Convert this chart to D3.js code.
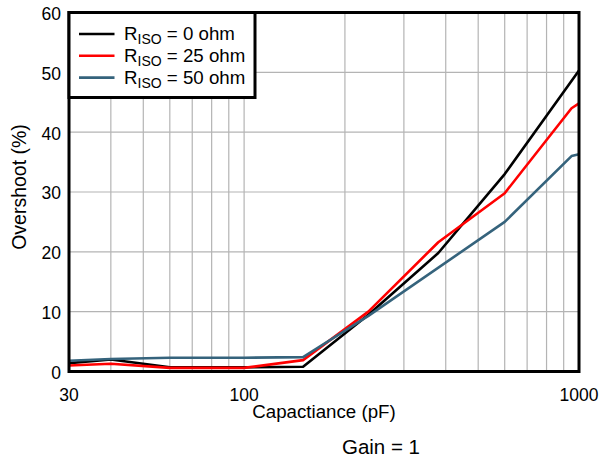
<!DOCTYPE html>
<meta charset="utf-8">
<title>Overshoot vs Capacitance</title>
<style>
    body { margin: 0; background: #fff; font-family: Arial, "Liberation Sans", Helvetica, sans-serif; }
    svg text { fill: #000; }
</style>
<body>
<script src="https://cdn.jsdelivr.net/npm/d3@7"></script>
<script>

    // capacitance (pF) and overshoot (%) per series
    var capR0  = [30, 40, 60, 100, 150, 235, 380, 600, 1000],
        ovR0   = [1.4, 2.0, 0.7, 0.7, 0.8, 9.5, 19.8, 33.0, 50.3];
    var capR25 = [30, 40, 60, 100, 150, 235, 380, 600, 950, 1000],
        ovR25  = [1.0, 1.3, 0.6, 0.6, 1.9, 10.0, 21.6, 29.8, 44.0, 44.8];
    var capR50 = [30, 40, 60, 100, 150, 235, 600, 950, 1000],
        ovR50  = [1.8, 2.1, 2.3, 2.3, 2.4, 9.3, 25.0, 36.0, 36.3];

    var seriesNames = ["0 ohm", "25 ohm", "50 ohm"],
        seriesColors = ["#000000", "#ff0000", "#35637c"];

    var xTicks = [30, 100, 1000],
        xGrid = [40, 50, 60, 70, 80, 90, 100, 200, 300, 400, 500, 600, 700, 800, 900],
        yTicks = [0, 10, 20, 30, 40, 50, 60];

    var width = 601, height = 461;
    var plotL = 69, plotR = 579, plotT = 12.5, plotB = 371.5;

    var x = d3.scaleLog().domain([30, 1000]).range([plotL, plotR]);
    var y = d3.scaleLinear().domain([0, 60]).range([plotB, plotT]);

    var svg = d3.select("body").append("svg")
        .attr("width", width)
        .attr("height", height);

    // grid
    svg.append("g").selectAll("line")
        .data(xGrid)
        .enter().append("line")
        .attr("x1", function(d) { return x(d); })
        .attr("x2", function(d) { return x(d); })
        .attr("y1", plotT).attr("y2", plotB)
        .attr("stroke", "#b4b4b4").attr("stroke-width", 1.2);

    svg.append("g").selectAll("line")
        .data(yTicks.slice(1, -1))
        .enter().append("line")
        .attr("x1", plotL).attr("x2", plotR)
        .attr("y1", function(d) { return y(d); })
        .attr("y2", function(d) { return y(d); })
        .attr("stroke", "#b4b4b4").attr("stroke-width", 1.2);

    // series
    var series = [
        { cap: capR0, ov: ovR0 },
        { cap: capR25, ov: ovR25 },
        { cap: capR50, ov: ovR50 }
    ];

    var line = d3.line()
        .x(function(d) { return x(d[0]); })
        .y(function(d) { return y(d[1]); });

    svg.append("g").selectAll("path")
        .data(series)
        .enter().append("path")
        .attr("d", function(s) { return line(d3.zip(s.cap, s.ov)); })
        .attr("fill", "none")
        .attr("stroke", function(s, i) { return seriesColors[i]; })
        .attr("stroke-width", 2.6)
        .attr("stroke-linejoin", "round");

    // frame
    svg.append("rect")
        .attr("x", plotL).attr("y", plotT)
        .attr("width", plotR - plotL).attr("height", plotB - plotT)
        .attr("fill", "none").attr("stroke", "#000").attr("stroke-width", 3);

    // tick labels
    svg.append("g").selectAll("text")
        .data(yTicks)
        .enter().append("text")
        .attr("x", 61)
        .attr("y", function(d) { return y(d); })
        .attr("dy", "0.42em")
        .attr("text-anchor", "end")
        .style("font-size", "17.5px")
        .text(function(d) { return d; });

    svg.append("g").selectAll("text")
        .data(xTicks)
        .enter().append("text")
        .attr("x", function(d) { return x(d); })
        .attr("y", 395)
        .attr("dy", "0.35em")
        .attr("text-anchor", "middle")
        .style("font-size", "17.5px")
        .text(function(d) { return d; });

    // axis titles
    svg.append("text")
        .attr("x", 324).attr("y", 411.5)
        .attr("dy", "0.35em")
        .attr("text-anchor", "middle")
        .style("font-size", "18.7px")
        .text("Capactiance (pF)");

    svg.append("text")
        .attr("transform", "translate(19,187) rotate(-90)")
        .attr("dy", "0.35em")
        .attr("text-anchor", "middle")
        .style("font-size", "19.5px")
        .text("Overshoot (%)");

    svg.append("text")
        .attr("x", 381).attr("y", 447)
        .attr("dy", "0.35em")
        .attr("text-anchor", "middle")
        .style("font-size", "20.5px")
        .text("Gain = 1");

    // legend
    var legend = svg.append("g");
    legend.append("rect")
        .attr("x", plotL).attr("y", plotT)
        .attr("width", 186).attr("height", 85)
        .attr("fill", "#fff").attr("stroke", "#000").attr("stroke-width", 3);

    var rows = legend.selectAll("g.row")
        .data(seriesNames)
        .enter().append("g")
        .attr("class", "row")
        .attr("transform", function(d, i) { return "translate(0," + (34 + i * 21.8) + ")"; });

    rows.append("line")
        .attr("x1", 79).attr("x2", 114.5)
        .attr("stroke", function(d, i) { return seriesColors[i]; })
        .attr("stroke-width", 2.6);

    var lt = rows.append("text")
        .attr("x", 124)
        .attr("dy", "0.33em")
        .style("font-size", "18.7px");
    lt.append("tspan").text("R");
    lt.append("tspan").attr("dy", "4").style("font-size", "14px").text("ISO");
    lt.append("tspan").attr("dy", "-4").text(function(d) { return " = " + d; });

</script>
</body>
